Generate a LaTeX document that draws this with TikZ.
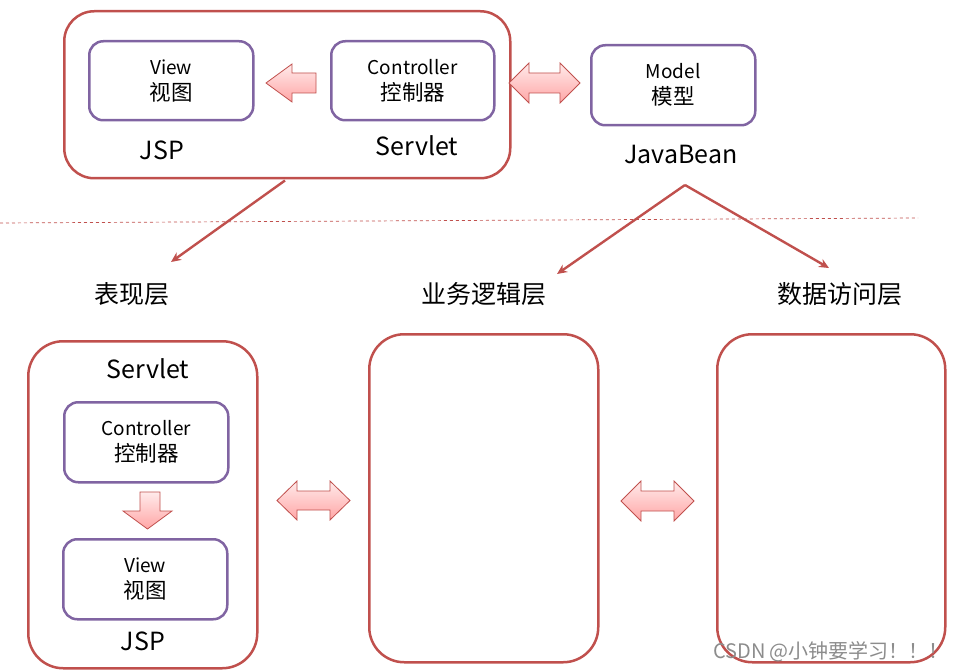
\documentclass[tikz,border=0pt]{standalone}
\usepackage{fontspec}
\setmainfont{Noto Sans CJK SC}
\usetikzlibrary{arrows.meta}
\definecolor{boxred}{HTML}{C0504D}
\definecolor{boxpurple}{HTML}{8064A2}
\tikzset{
	outerbox/.style={draw=boxred, line width=2.5pt, rounded corners=30pt, anchor=north west, inner sep=0pt},
	innerbox/.style={draw=boxpurple, line width=2.5pt, rounded corners=14pt, anchor=north west, inner sep=0pt, align=center, font=\fontsize{19}{26}\selectfont},
	blockarrow/.style={draw=boxred, line width=0.8pt, top color=red!8, bottom color=red!35, line join=miter},
	thinarrow/.style={draw=boxred, line width=2.4pt, -{Stealth[length=10pt,width=9pt]}},
	bigtext/.style={font=\fontsize{25}{28}\selectfont},
}
\newcommand{\boxlabel}[2]{#1\\{\fontsize{21.5}{26}\selectfont #2}}
\begin{document}
\begin{tikzpicture}[x=1pt,y=-1pt]
		\useasboundingbox (0,0) rectangle (956,671);
		% top part
		\node [outerbox, minimum width=446pt, minimum height=167pt] (topbox) at (63,10) {};
		\node [innerbox, minimum width=164pt, minimum height=79pt] (view1) at (88,40) {\boxlabel{View}{视图}};
		\node [innerbox, minimum width=163pt, minimum height=79pt] (ctrl1) at (330,40) {\boxlabel{Controller}{控制器}};
		\node [innerbox, minimum width=164pt, minimum height=80pt] (model) at (590,44) {\boxlabel{Model}{模型}};
		\node [bigtext] (jsp1) at (162,150) {JSP};
		\node [bigtext] (servlet1) at (417,146) {Servlet};
		\node [bigtext] (javabean) at (681,155) {JavaBean};
		\draw [blockarrow] (266,83) -- (292,64) -- (292,73) -- (316,73) -- (316,93) -- (292,93) -- (292,102) -- cycle;
		\draw [blockarrow] (509,83) -- (529,63) -- (529,73) -- (560,73) -- (560,63) -- (580,83) -- (560,103) -- (560,93) -- (529,93) -- (529,103) -- cycle;
		% dashed separator
		\draw [boxred, dashed, line width=0.7pt] (0,223) -- (918,218);
		% layer labels
		\node [bigtext] (show) at (132,294) {表现层};
		\node [bigtext] (logic) at (484,294) {业务逻辑层};
		\node [bigtext] (data) at (840,294) {数据访问层};
		\coordinate (split) at (685,185);
		\draw [thinarrow] (topbox.south west) ++(222,1) -- (171,262);
		\draw [thinarrow] (split) -- (557,274);
		\draw [thinarrow] (split) -- (829,268);
		% bottom part
		\node [outerbox, minimum width=229pt, minimum height=327pt, rounded corners=35pt] (leftbox) at (27,340) {};
		\node [outerbox, minimum width=229pt, minimum height=328pt, rounded corners=35pt] (midbox) at (368,333) {};
		\node [outerbox, minimum width=228pt, minimum height=328pt, rounded corners=35pt] (rightbox) at (716,333) {};
		\node [bigtext] (servlet2) at (148,369) {Servlet};
		\node [innerbox, minimum width=164pt, minimum height=80pt] (ctrl2) at (63,401) {\boxlabel{Controller}{控制器}};
		\node [innerbox, minimum width=164pt, minimum height=80pt] (view2) at (62,538) {\boxlabel{View}{视图}};
		\node [bigtext] (jsp2) at (143,641) {JSP};
		\draw [blockarrow] (140,492) -- (160,492) -- (160,511) -- (172,511) -- (147.5,529) -- (123,511) -- (140,511) -- cycle;
		\draw [blockarrow] (277,500.5) -- (297,481) -- (297,491) -- (330,491) -- (330,481) -- (350,500.5) -- (330,520) -- (330,510) -- (297,510) -- (297,520) -- cycle;
		\draw [blockarrow] (621,501) -- (641,481) -- (641,491) -- (674,491) -- (674,481) -- (694,501) -- (674,521) -- (674,511) -- (641,511) -- (641,521) -- cycle;
		% watermark
		\node [text=black!45, font=\fontsize{20}{22}\selectfont] (mark) at (831,652) {CSDN @小钟要学习！！！};
\end{tikzpicture}
\end{document}
